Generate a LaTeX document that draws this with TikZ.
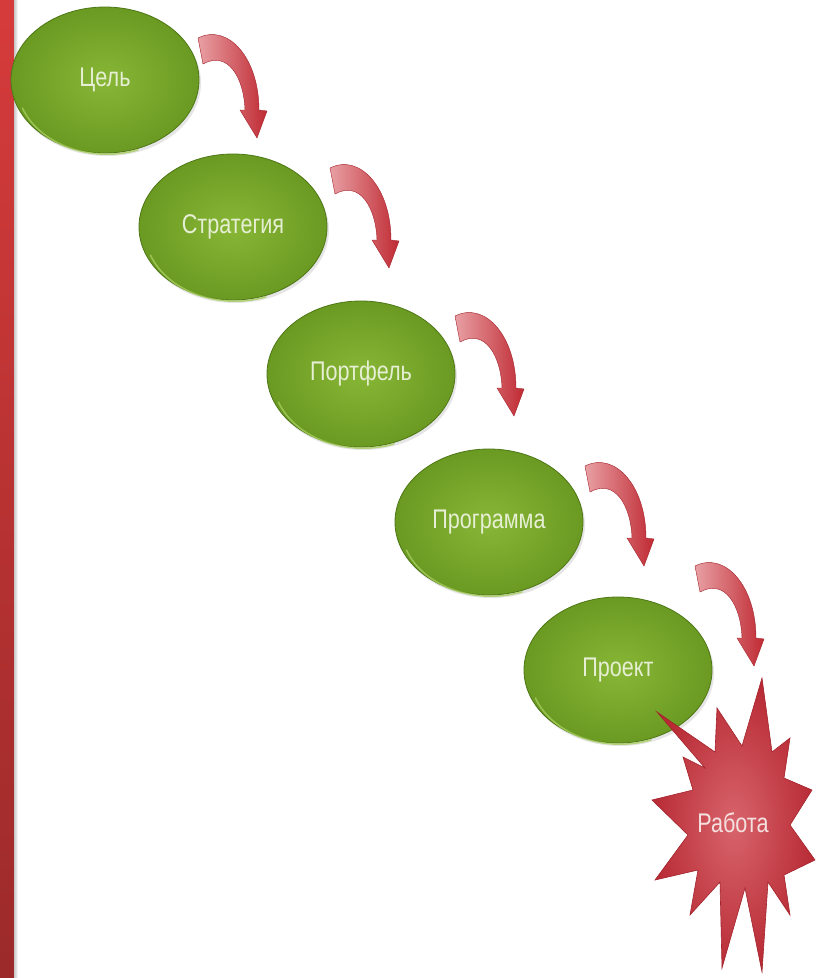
\documentclass[tikz,border=0pt]{standalone}
\usepackage{fontspec}
\newfontfamily\lblfont{Liberation Sans}[FakeStretch=0.8]
\usetikzlibrary{shapes.geometric,shadows}
\definecolor{barTop}{HTML}{D63B3B}
\definecolor{barBot}{HTML}{9C2A2A}
\definecolor{greenIn}{HTML}{88B636}
\definecolor{greenOut}{HTML}{6A9A22}
\definecolor{greenEdge}{HTML}{4E7716}
\definecolor{greenRim}{HTML}{A6CC5C}
\definecolor{greenText}{HTML}{E6EFD3}
\definecolor{arrPink}{HTML}{E8A0A4}
\definecolor{arrRed}{HTML}{C02A33}
\definecolor{arrEdge}{HTML}{A3222B}
\definecolor{starIn}{HTML}{D8646B}
\definecolor{starOut}{HTML}{B82B35}
\definecolor{starText}{HTML}{F5E0E0}
\tikzset{
  stage/.style={ellipse, minimum width=188pt, minimum height=146pt, inner sep=0pt,
    draw=greenEdge, line width=0.8pt, inner color=greenIn, outer color=greenOut,
    drop shadow={opacity=0.2, shadow xshift=2pt, shadow yshift=-3pt},
    font=\lblfont\fontsize{27}{27}\selectfont, text=greenText},
  rim/.style={draw=greenRim, line width=1.6pt, line cap=round, opacity=0.8},
  bentarrow/.pic={
    \shade[left color=arrPink, right color=arrRed, draw=arrEdge, line width=0.4pt]
      (0,0) .. controls (30,-15) and (61,20) .. (61,72)
      -- (69,73) -- (59,100) -- (42,72) -- (47,72)
      .. controls (46,40) and (30,12) .. (5,26) -- cycle;
  },
  worklabel/.style={font=\lblfont\fontsize{27}{27}\selectfont, text=starText}
}
\begin{document}
\begin{tikzpicture}[x=1pt,y=-1pt]
\useasboundingbox (0,0) rectangle (825,978);
\fill[white] (0,0) rectangle (825,978);
\shade[top color=barTop, bottom color=barBot] (0,0) rectangle (14,978);
\shade[left color=black!22, right color=white] (14,0) rectangle (18,978);

\node[stage] (goal) at (105,80) {Цель};
\node[stage] (strategy) at (233,227) {Стратегия};
\node[stage] (portfolio) at (361,374) {Портфель};
\node[stage] (program) at (489,522) {Программа};
\node[stage] (project) at (618,670) {Проект};

\foreach \n in {goal,strategy,portfolio,program,project}
  \draw[rim] ([shift={(3,-3)}]\n.200) arc[start angle=200, end angle=290, x radius=90pt, y radius=70pt];

\pic at (198,38) {bentarrow};
\pic at (330,168) {bentarrow};
\pic at (455,316) {bentarrow};
\pic at (585,466) {bentarrow};
\pic at (695,566) {bentarrow};

\shade[inner color=starIn, outer color=starOut, draw=arrEdge, line width=0.6pt]
  (762,678) -- (772,752) -- (790,738) -- (784,778) -- (812,790) -- (790,825)
  -- (815,860) -- (784,875) -- (790,915) -- (768,882) -- (762,972) -- (745,888)
  -- (722,968) -- (720,882) -- (690,915) -- (698,870) -- (655,880) -- (688,835)
  -- (652,800) -- (693,790) -- (683,757) -- (705,768) -- (657,712) -- (715,752)
  -- (717,708) -- (742,746) -- cycle;
\node[worklabel] (work) at (733,823) {Работа};
\end{tikzpicture}
\end{document}
